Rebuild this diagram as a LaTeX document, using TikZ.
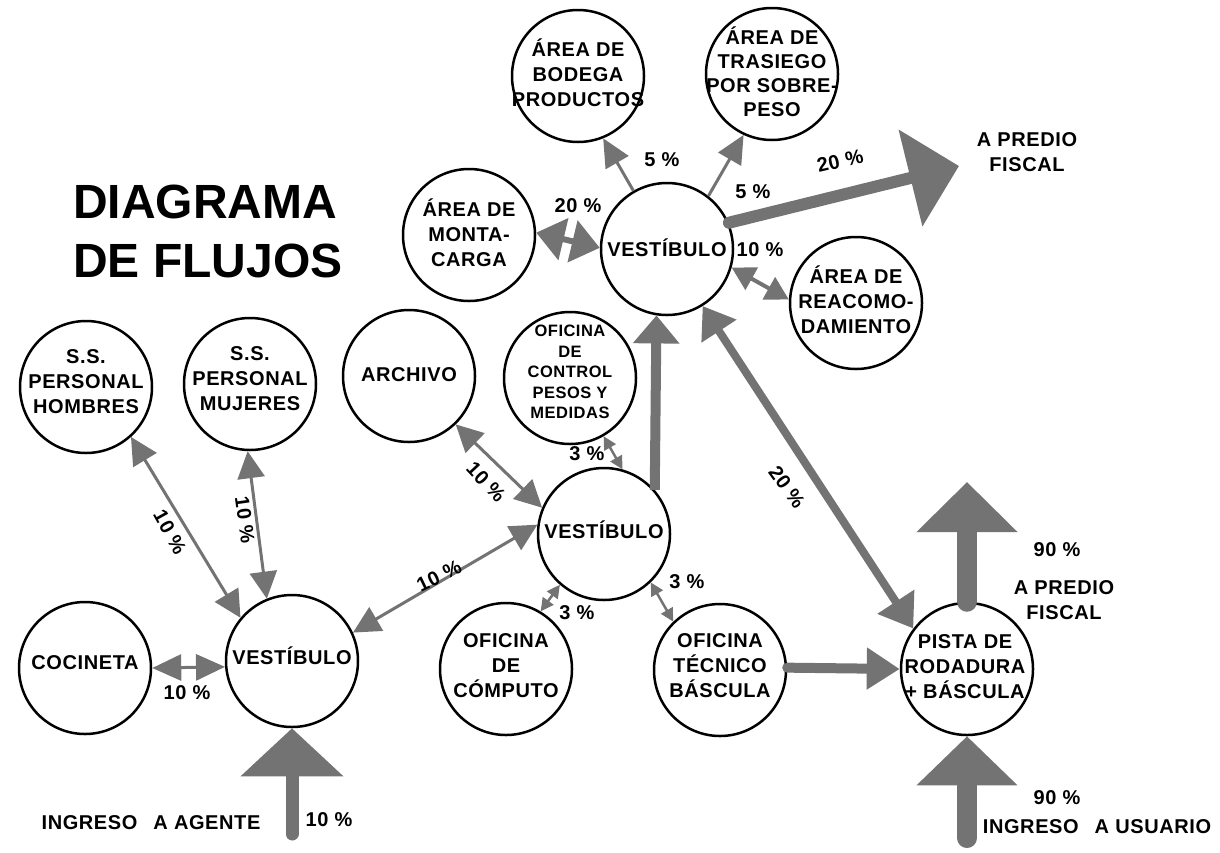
\documentclass[tikz,border=0pt]{standalone}
\usepackage{fontspec}
\setmainfont{Liberation Sans}
\newfontfamily\labfont[LetterSpace=3]{Liberation Sans}
\usetikzlibrary{arrows.meta}
\definecolor{ar}{RGB}{115,115,115}
\begin{document}
\begin{tikzpicture}[x=1pt,y=-1pt,
 room/.style={circle,draw=black,line width=2.5pt,fill=white,minimum size=132pt,inner sep=0pt},
 rtxt/.style={align=center,inner sep=0pt,font=\labfont\bfseries\fontsize{20}{25}\selectfont},
 stxt/.style={align=center,inner sep=0pt,font=\labfont\bfseries\fontsize{16.5}{20.5}\selectfont},
 pct/.style={inner sep=0pt,align=center,font=\labfont\bfseries\fontsize{20}{25}\selectfont},
 thin2/.style={draw=ar,line width=3pt,>={Triangle[length=27pt,width=27pt]},<->},
 thin1/.style={draw=ar,line width=3pt,>={Triangle[length=28pt,width=26pt]},->},
 small2/.style={draw=ar,line width=2.5pt,>={Triangle[length=13pt,width=13pt]},<->},
 thick/.style={draw=ar,line cap=round},
]
\useasboundingbox (0,0) rectangle (1220,852);

% title
\node[anchor=west,align=left,inner sep=0pt,font=\bfseries\fontsize{48}{59}\selectfont] (title) at (73,231) {DIAGRAMA\\DE FLUJOS};

% rooms
\node[room] (bod) at (578,76) {};
\node[room] (tra) at (772,74) {};
\node[room] (mon) at (469,235) {};
\node[room] (vt) at (667,249) {};
\node[room] (rea) at (856,303) {};
\node[room] (hom) at (86,387) {};
\node[room] (muj) at (250,384) {};
\node[room] (arc) at (409,376) {};
\node[room] (ctl) at (570,378) {};
\node[room] (vm) at (604,534) {};
\node[room] (com) at (506,669) {};
\node[room] (tec) at (720,670) {};
\node[room] (coc) at (85,668) {};
\node[room] (vb) at (292,661) {};
\node[room] (pis) at (967,669) {};

% room texts
\node[rtxt] (bod-t) at (578,73) {ÁREA DE\\BODEGA\\PRODUCTOS};
\node[rtxt,font=\labfont\bfseries\fontsize{20}{24}\selectfont] (tra-t) at (772,72) {ÁREA DE\\TRASIEGO\\POR SOBRE-\\PESO};
\node[rtxt] (mon-t) at (469,233) {ÁREA DE\\MONTA-\\CARGA};
\node[rtxt] (vt-t) at (667,248) {VESTÍBULO};
\node[rtxt] (rea-t) at (856,300) {ÁREA DE\\REACOMO-\\DAMIENTO};
\node[rtxt] (hom-t) at (86,382) {S.S.\\PERSONAL\\HOMBRES};
\node[rtxt] (muj-t) at (250,379) {S.S.\\PERSONAL\\MUJERES};
\node[rtxt] (arc-t) at (409,375) {ARCHIVO};
\node[stxt] (ctl-t) at (570,372) {OFICINA\\DE\\CONTROL\\PESOS Y\\MEDIDAS};
\node[rtxt] (vm-t) at (604,530) {VESTÍBULO};
\node[rtxt] (com-t) at (506,666) {OFICINA\\DE\\CÓMPUTO};
\node[rtxt] (tec-t) at (720,666) {OFICINA\\TÉCNICO\\BÁSCULA};
\node[rtxt] (coc-t) at (85,663) {COCINETA};
\node[rtxt] (vb-t) at (292,656) {VESTÍBULO};
\node[rtxt] (pis-t) at (965,667) {PISTA DE\\RODADURA\\+ BÁSCULA};

% free ends
\coordinate (pf1) at (959,166);
\coordinate (pf2) at (967,482);
\coordinate (ua) at (967,838);
\coordinate (ag) at (292,834);

% thick flows
\draw[thick,line width=12pt,-{Triangle[length=50pt,width=97pt]}] (vt.23) -- (pf1);
\draw[draw=ar,line width=10pt,-{Triangle[length=28pt,width=45pt]}] (vm.41) -- (vt.-99);
\draw[draw=ar,line width=8pt,{Triangle[length=30pt,width=40pt]}-{Triangle[length=32pt,width=42pt]}] (vt.-58) -- (pis.143);
\draw[thick,line width=10pt,-{Triangle[length=33pt,width=40pt]}] (tec.2) -- (pis.180);
\draw[thick,line width=20pt,-{Triangle[length=50pt,width=98pt]}] (pis.90) -- (pf2);
\draw[thick,line width=20pt,-{Triangle[length=49pt,width=98pt]}] (ua) -- (pis.-90);
\draw[thick,line width=13pt,-{Triangle[length=48pt,width=100pt]}] (ag) -- (vb.-90);
\draw[draw=ar,line width=6pt,>={Triangle[length=28pt,width=42pt]},<->] (mon.2) -- (vt.179);
\draw[draw=ar,line width=4pt,>={Triangle[length=23pt,width=25pt]},<->] (vt.-16) -- (rea.177);

% thin flows
\draw[thin1] (vt.120) -- (bod.-68);
\draw[thin1] (vt.52) -- (tra.-115);
\draw[thin2,>={Triangle[length=29pt,width=26pt]}] (coc.0) -- (vb.-175);
\draw[thin2] (hom.-48) -- (vb.140);
\draw[thin2] (muj.-92) -- (vb.112);
\draw[thin2] (arc.-46) -- (vm.157);
\draw[thin2] (vm.172) -- (vb.25);
\draw[small2] (ctl.-60) -- (vm.74);
\draw[small2] (vm.-131) -- (com.59);
\draw[small2] (vm.-46) -- (tec.134);

% percentages and labels
\node[pct] (p1) at (578,206) {20 \%};
\node[pct] (p2) at (662,160) {5 \%};
\node[pct] (p3) at (753,192) {5 \%};
\node[pct] (p4) at (760,250) {10 \%};
\node[pct,rotate=13] (p5) at (840,161) {20 \%};
\node[pct] (pf1-t) at (1027,152) {A PREDIO\\FISCAL};
\node[pct,rotate=-54] (p6) at (787,487) {20 \%};
\node[pct] (p7) at (587,454) {3 \%};
\node[pct] (p8) at (577,613) {3 \%};
\node[pct] (p9) at (687,582) {3 \%};
\node[pct,rotate=-47] (p10) at (486,482) {10 \%};
\node[pct,rotate=26] (p11) at (439,576) {10 \%};
\node[pct,rotate=-61] (p12) at (170,532) {10 \%};
\node[pct,rotate=-82] (p13) at (245,520) {10 \%};
\node[pct] (p14) at (187,693) {10 \%};
\node[pct] (p15) at (329,820) {10 \%};
\node[pct] (ag-t) at (151,823) {INGRESO\hspace{0.8em}A AGENTE};
\node[pct] (p16) at (1057,550) {90 \%};
\node[pct] (pf2-t) at (1064,600) {A PREDIO\\FISCAL};
\node[pct] (p17) at (1057,798) {90 \%};
\node[pct] (ua-t) at (1097,827) {INGRESO\hspace{0.8em}A USUARIO};
\end{tikzpicture}
\end{document}
